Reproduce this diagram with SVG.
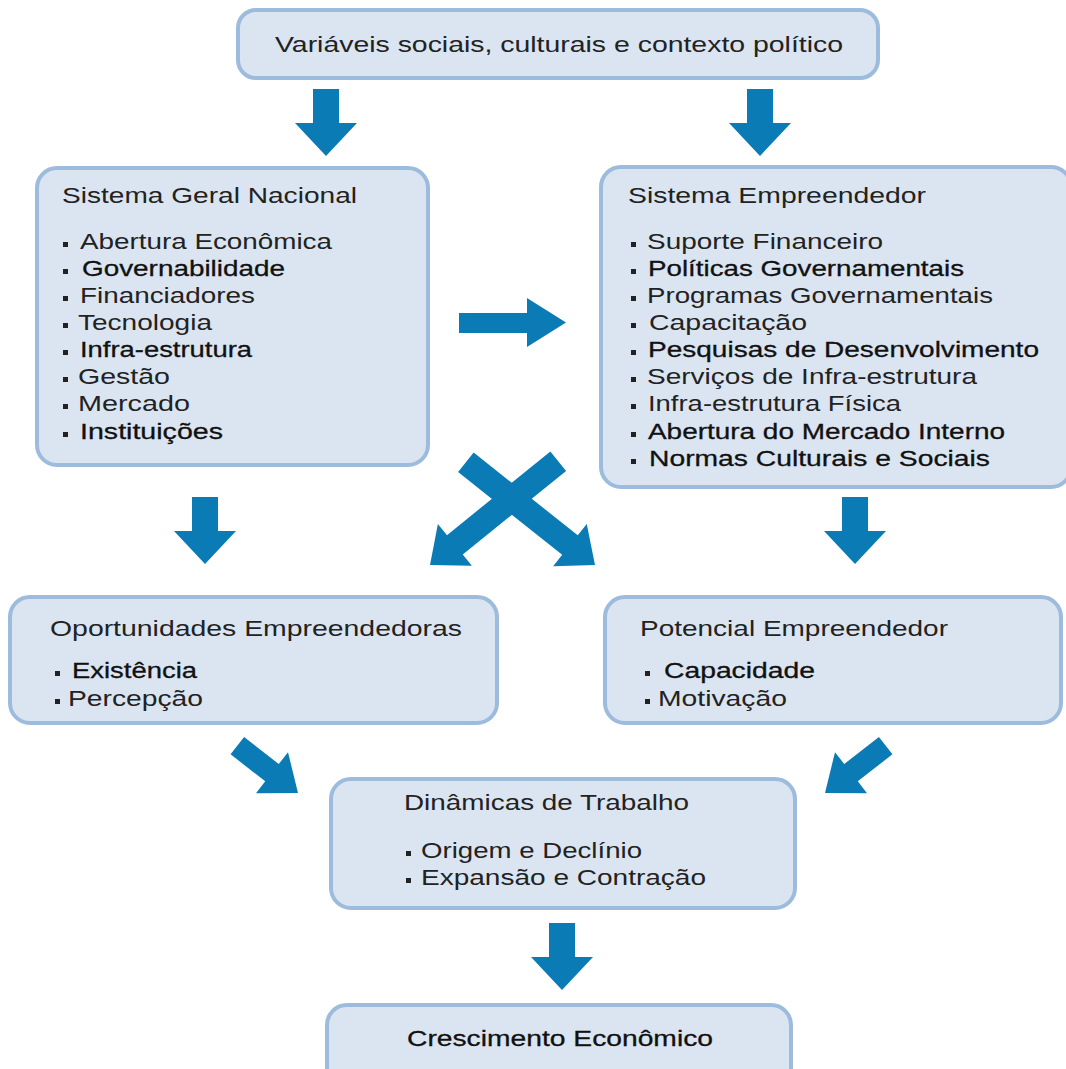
<svg xmlns="http://www.w3.org/2000/svg" width="1066" height="1069" viewBox="0 0 1066 1069">
<style>
.box{fill:#dbe5f1;stroke:#9dbcdd;stroke-width:4}
.t{font-family:"Liberation Sans",Arial,sans-serif;font-size:22px;fill:#222}
.b{fill:#111;stroke:#111;stroke-width:0.3}
.bul{fill:#222}
.arr{fill:#0b7bb6}
</style>
<defs>
<path id="down" d="M-13,-67 L13,-67 L13,-33 L31,-33 L0,0 L-31,-33 L-13,-33 Z"/>
</defs>
<rect width="1066" height="1069" fill="#fff"/>

<g id="n-top">
<rect class="box" x="238" y="10" width="640" height="68" rx="18"/>
<text class="t" x="275" y="52" textLength="568" lengthAdjust="spacingAndGlyphs">Variáveis sociais, culturais e contexto político</text>
</g>

<g id="n-sgn">
<rect class="box" x="37" y="168" width="391" height="297" rx="20"/>
<text class="t" x="62" y="203" textLength="295" lengthAdjust="spacingAndGlyphs">Sistema Geral Nacional</text>
<g class="bul"><rect x="63" y="242" width="5" height="5"/><rect x="63" y="269" width="5" height="5"/><rect x="63" y="296" width="5" height="5"/><rect x="63" y="323" width="5" height="5"/><rect x="63" y="350" width="5" height="5"/><rect x="63" y="377" width="5" height="5"/><rect x="63" y="404" width="5" height="5"/><rect x="63" y="432" width="5" height="5"/></g>
<text class="t" x="80" y="249" textLength="252" lengthAdjust="spacingAndGlyphs">Abertura Econômica</text>
<text class="t b" x="82" y="276" textLength="203" lengthAdjust="spacingAndGlyphs">Governabilidade</text>
<text class="t" x="80" y="303" textLength="175" lengthAdjust="spacingAndGlyphs">Financiadores</text>
<text class="t" x="78" y="330" textLength="134" lengthAdjust="spacingAndGlyphs">Tecnologia</text>
<text class="t b" x="80" y="357" textLength="172" lengthAdjust="spacingAndGlyphs">Infra-estrutura</text>
<text class="t" x="78" y="384" textLength="92" lengthAdjust="spacingAndGlyphs">Gestão</text>
<text class="t" x="78" y="411" textLength="112" lengthAdjust="spacingAndGlyphs">Mercado</text>
<text class="t b" x="80" y="439" textLength="143" lengthAdjust="spacingAndGlyphs">Instituições</text>
</g>

<g id="n-se">
<rect class="box" x="601" y="167" width="470" height="320" rx="20"/>
<text class="t" x="628" y="203" textLength="298" lengthAdjust="spacingAndGlyphs">Sistema Empreendedor</text>
<g class="bul"><rect x="631" y="242" width="5" height="5"/><rect x="631" y="269" width="5" height="5"/><rect x="631" y="296" width="5" height="5"/><rect x="631" y="323" width="5" height="5"/><rect x="631" y="350" width="5" height="5"/><rect x="631" y="377" width="5" height="5"/><rect x="631" y="404" width="5" height="5"/><rect x="631" y="432" width="5" height="5"/><rect x="631" y="459" width="5" height="5"/></g>
<text class="t" x="647" y="249" textLength="236" lengthAdjust="spacingAndGlyphs">Suporte Financeiro</text>
<text class="t b" x="648" y="276" textLength="316" lengthAdjust="spacingAndGlyphs">Políticas Governamentais</text>
<text class="t" x="647" y="303" textLength="346" lengthAdjust="spacingAndGlyphs">Programas Governamentais</text>
<text class="t" x="649" y="330" textLength="158" lengthAdjust="spacingAndGlyphs">Capacitação</text>
<text class="t b" x="648" y="357" textLength="391" lengthAdjust="spacingAndGlyphs">Pesquisas de Desenvolvimento</text>
<text class="t" x="647" y="384" textLength="330" lengthAdjust="spacingAndGlyphs">Serviços de Infra-estrutura</text>
<text class="t" x="648" y="411" textLength="253" lengthAdjust="spacingAndGlyphs">Infra-estrutura Física</text>
<text class="t b" x="648" y="439" textLength="357" lengthAdjust="spacingAndGlyphs">Abertura do Mercado Interno</text>
<text class="t b" x="649" y="466" textLength="341" lengthAdjust="spacingAndGlyphs">Normas Culturais e Sociais</text>
</g>

<g id="n-oe">
<rect class="box" x="10" y="597" width="487" height="126" rx="20"/>
<text class="t" x="50" y="636" textLength="412" lengthAdjust="spacingAndGlyphs">Oportunidades Empreendedoras</text>
<g class="bul"><rect x="55" y="671" width="5" height="5"/><rect x="55" y="699" width="5" height="5"/></g>
<text class="t b" x="72" y="678" textLength="125" lengthAdjust="spacingAndGlyphs">Existência</text>
<text class="t" x="68" y="706" textLength="135" lengthAdjust="spacingAndGlyphs">Percepção</text>
</g>

<g id="n-pe">
<rect class="box" x="605" y="597" width="456" height="126" rx="20"/>
<text class="t" x="640" y="636" textLength="308" lengthAdjust="spacingAndGlyphs">Potencial Empreendedor</text>
<g class="bul"><rect x="645" y="671" width="5" height="5"/><rect x="645" y="699" width="5" height="5"/></g>
<text class="t b" x="664" y="678" textLength="151" lengthAdjust="spacingAndGlyphs">Capacidade</text>
<text class="t" x="658" y="706" textLength="129" lengthAdjust="spacingAndGlyphs">Motivação</text>
</g>

<g id="n-dt">
<rect class="box" x="331" y="779" width="464" height="129" rx="20"/>
<text class="t" x="404" y="810" textLength="285" lengthAdjust="spacingAndGlyphs">Dinâmicas de Trabalho</text>
<g class="bul"><rect x="406" y="851" width="5" height="5"/><rect x="406" y="878" width="5" height="5"/></g>
<text class="t" x="421" y="858" textLength="221" lengthAdjust="spacingAndGlyphs">Origem e Declínio</text>
<text class="t" x="421" y="885" textLength="285" lengthAdjust="spacingAndGlyphs">Expansão e Contração</text>
</g>

<g id="n-ce">
<rect class="box" x="327" y="1005" width="464" height="90" rx="20"/>
<text class="t b" x="407" y="1046" textLength="306" lengthAdjust="spacingAndGlyphs">Crescimento Econômico</text>
</g>

<g id="connectors" class="arr">
<use href="#down" transform="translate(326,156)"/>
<use href="#down" transform="translate(760,156)"/>
<path d="M459,313 L527,313 L527,298 L566,322.5 L527,347 L527,333 L459,333 Z"/>
<use href="#down" transform="translate(205,564)"/>
<use href="#down" transform="translate(855,564)"/>
<path d="M-12.5,-165 L12.5,-165 L12.5,-32 L27,-32 L0,0 L-27,-32 L-12.5,-32 Z" transform="translate(430,565) rotate(51)"/>
<path d="M-12.5,-165 L12.5,-165 L12.5,-32 L27,-32 L0,0 L-27,-32 L-12.5,-32 Z" transform="translate(595,565) rotate(-51.5)"/>
<path d="M-11,-77 L11,-77 L11,-33 L26,-33 L0,0 L-26,-33 L-11,-33 Z" transform="translate(298,793) rotate(-52)"/>
<path d="M-11,-77 L11,-77 L11,-33 L26,-33 L0,0 L-26,-33 L-11,-33 Z" transform="translate(825,793) rotate(52)"/>
<use href="#down" transform="translate(562,990)"/>
</g>
</svg>
